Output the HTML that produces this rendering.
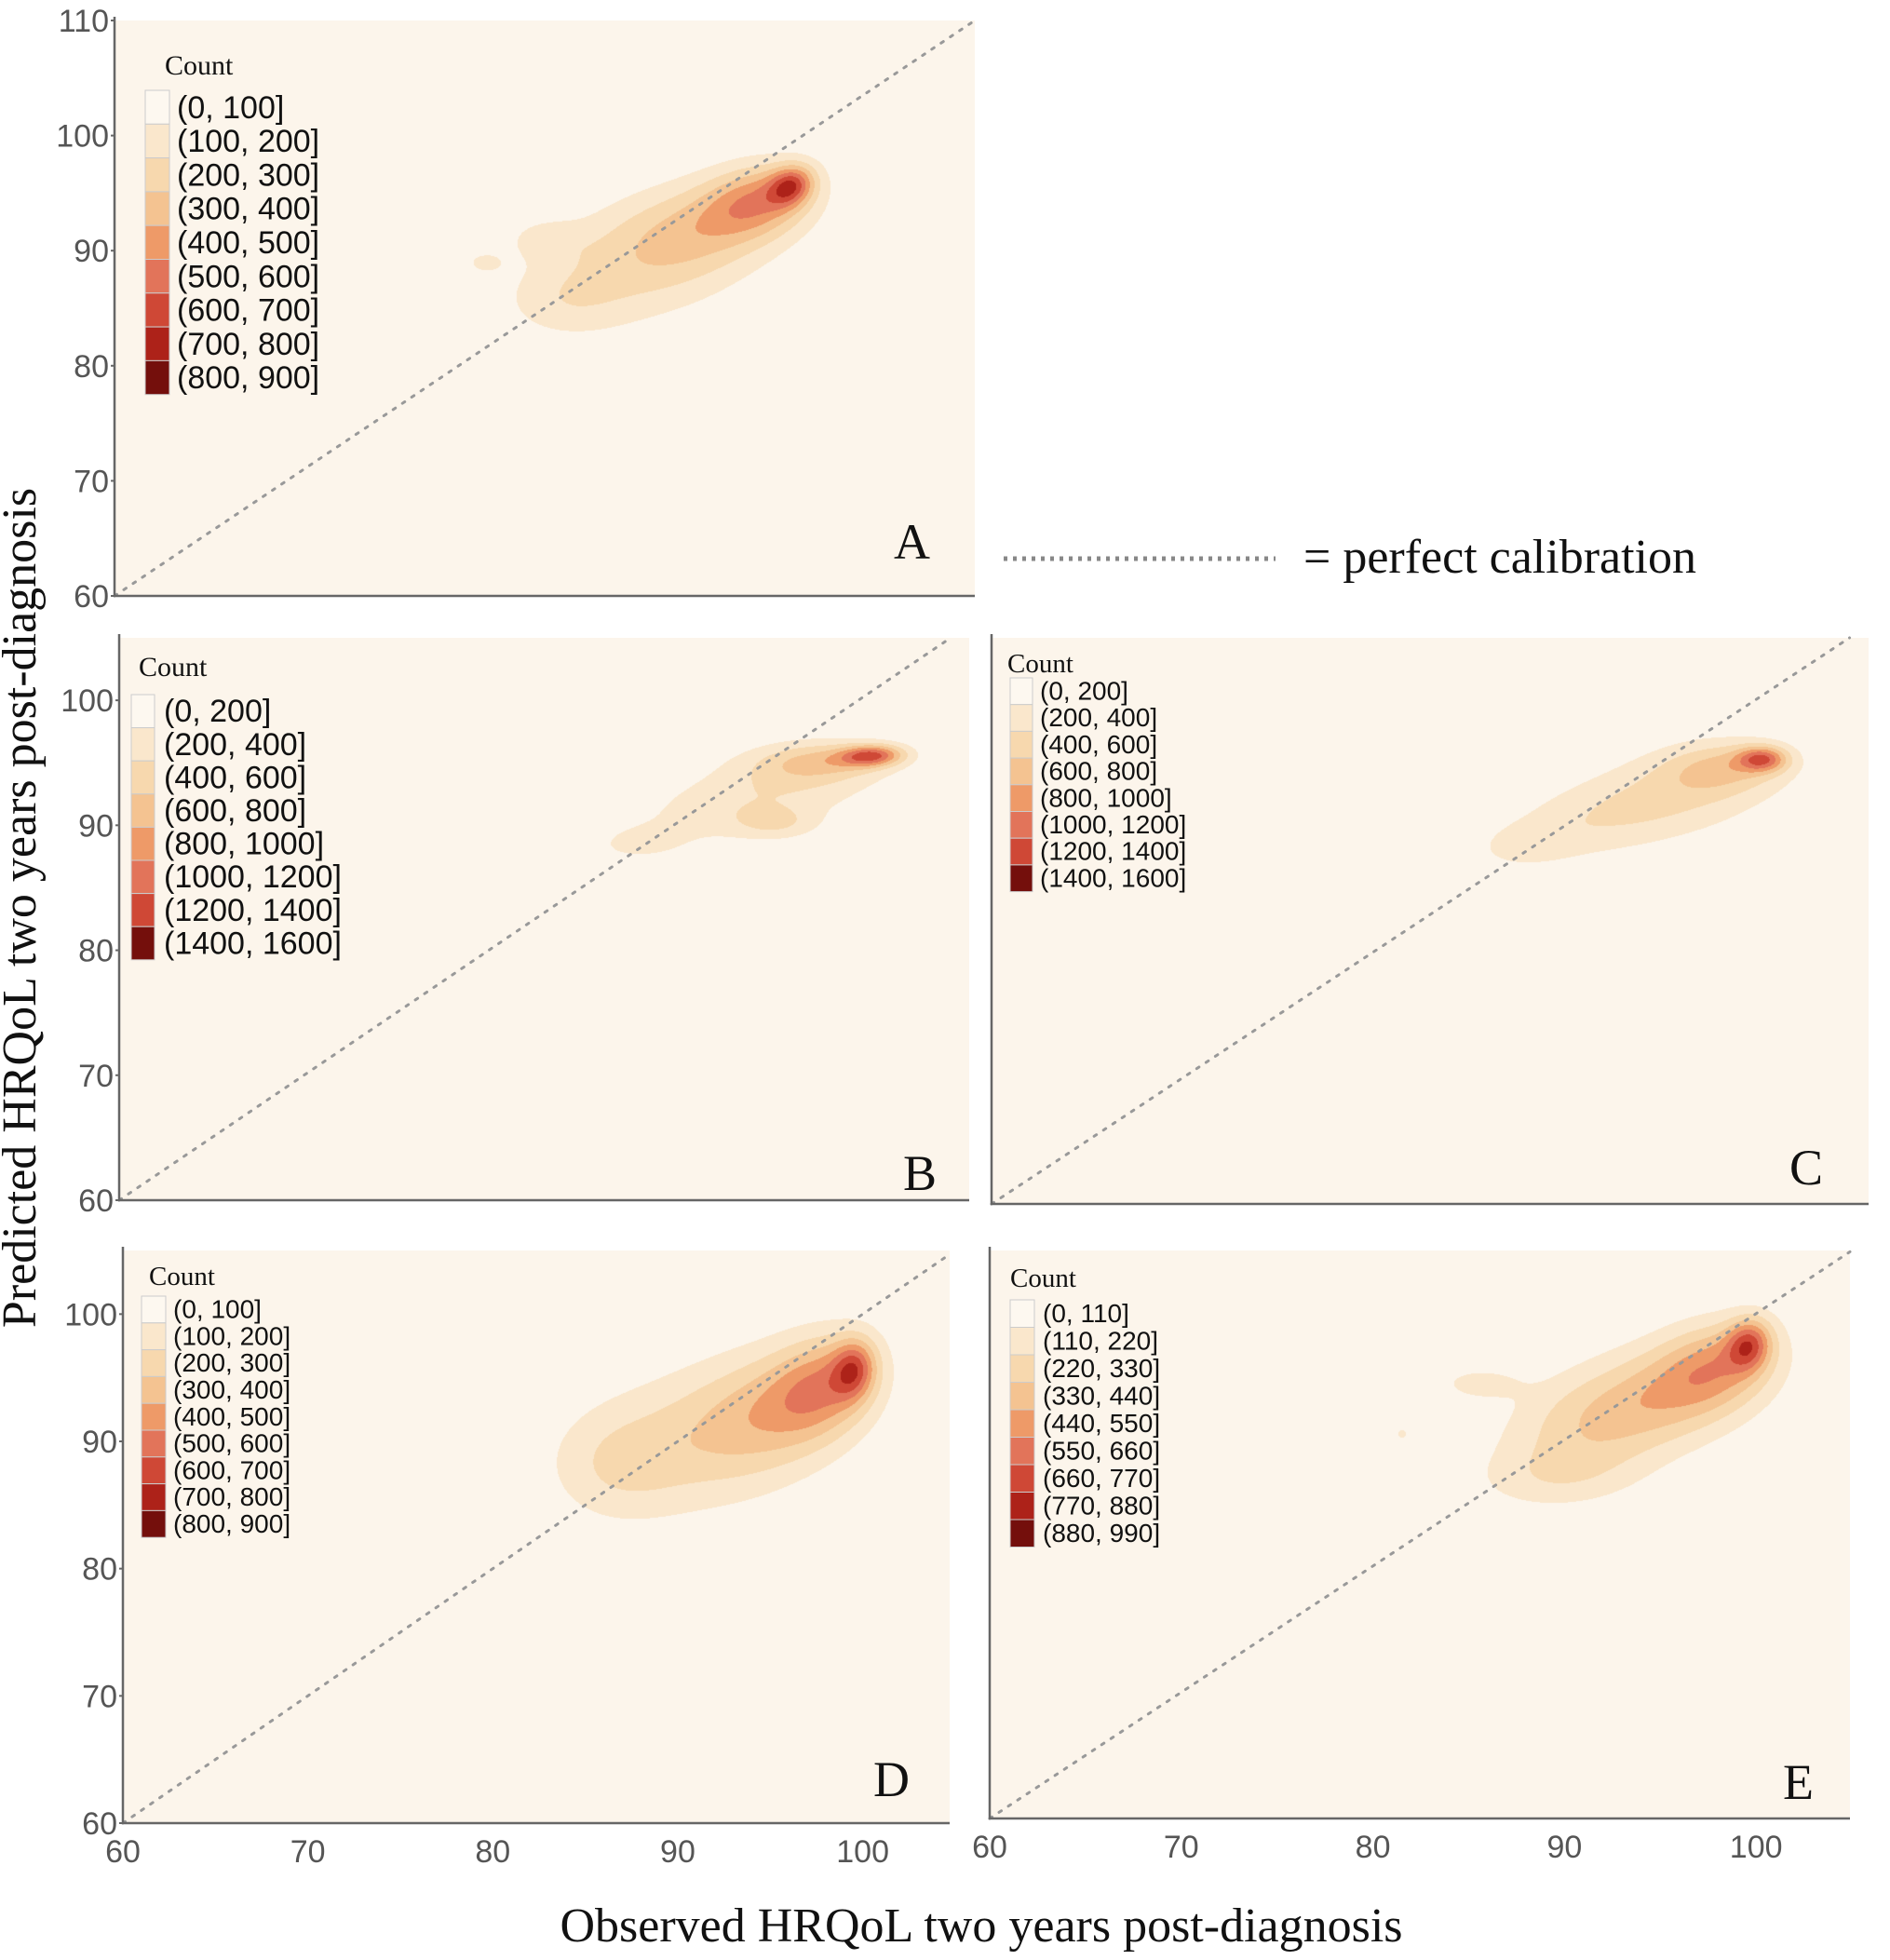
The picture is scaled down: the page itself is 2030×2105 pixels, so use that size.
<!DOCTYPE html>
<html><head><meta charset="utf-8">
<style>
body{margin:0;background:#fff;width:2030px;height:2105px;position:relative;overflow:hidden;font-family:"Liberation Sans",sans-serif}
canvas{position:absolute}
svg{position:absolute;left:0;top:0}
</style></head>
<body>
<canvas id="cA"></canvas>
<canvas id="cB"></canvas>
<canvas id="cC"></canvas>
<canvas id="cD"></canvas>
<canvas id="cE"></canvas>
<svg id="ov" width="2030" height="2105">
<text x="26" y="975" transform="rotate(-90 26 975)" text-anchor="middle" dominant-baseline="middle" font-family="Liberation Serif,serif" font-size="52" fill="#111">Predicted HRQoL two years post-diagnosis</text>
<text x="1054" y="2085" text-anchor="middle" font-family="Liberation Serif,serif" font-size="52" fill="#111">Observed HRQoL two years post-diagnosis</text>
<line x1="1078" y1="600" x2="1370" y2="600" stroke="#888" stroke-width="5" stroke-dasharray="4 6"/>
<text x="1400" y="615" font-family="Liberation Serif,serif" font-size="52" fill="#111">= perfect calibration</text>
</svg>
<script>
// ---- data ----
const levelColors=["#fdf8f0","#fae7cc","#f7d8ae","#f4c391","#ee9a68","#e2745a","#cf4836","#ad2219","#740f0c"];
const labelsA=["(0, 100]","(100, 200]","(200, 300]","(300, 400]","(400, 500]","(500, 600]","(600, 700]","(700, 800]","(800, 900]"];
const labelsB=["(0, 200]","(200, 400]","(400, 600]","(600, 800]","(800, 1000]","(1000, 1200]","(1200, 1400]","(1400, 1600]"];
const labelsC=["(0, 200]","(200, 400]","(400, 600]","(600, 800]","(800, 1000]","(1000, 1200]","(1200, 1400]","(1400, 1600]"];
const labelsD=["(0, 100]","(100, 200]","(200, 300]","(300, 400]","(400, 500]","(500, 600]","(600, 700]","(700, 800]","(800, 900]"];
const labelsE=["(0, 110]","(110, 220]","(220, 330]","(330, 440]","(440, 550]","(550, 660]","(660, 770]","(770, 880]","(880, 990]"];
const stepsA=100, stepsB=200, stepsC=200, stepsD=100, stepsE=110;
// kernel components: [x, y, sx, sy, rho, peak count]
const compsA=[[99.3,95.7,0.9,1.2,0.2,450],[97.5,94.5,2.2,2.2,0.2,380],[94,92,3.5,3,0.2,260],[90,88.5,4,3.5,0.1,180],[86,85.5,2.5,2.2,0,110],[85,91,1.5,1.2,0,110],[81.5,89,0.7,0.6,0,130]];
const compsB=[[100.7,95.6,1.2,0.6,0.1,1000],[98,95.2,2.5,1.1,0.1,500],[96.5,93.5,3.5,2,0.1,300],[95.5,90.2,1.6,0.9,0,300],[92,91,3.5,2,0.2,230],[88,88.5,2,1.1,0.1,200]];
const compsC=[[100.4,95.4,0.9,0.7,0,900],[98.5,94.8,2.2,1.4,0.1,450],[96.5,93,3.5,2.5,0.2,350],[91.5,90.5,3.5,2.3,0.3,300],[88,88.5,1.8,1.2,0.2,200]];
const compsD=[[99.5,95.7,0.8,1.6,0.1,400],[98,94.5,2,2.8,0.2,360],[95,92.5,3,3.5,0.2,260],[90.5,90,4,4,0.1,190],[86.5,88,2.5,3,0,130]];
const compsE=[[99.6,97.6,0.8,1.4,0.1,480],[98,96,2.2,2.5,0.2,380],[95,93.5,3.2,3,0.2,280],[91,91,3.2,3,0.2,220],[85.5,94.5,1.5,0.9,0,150],[89.5,87,3,1.8,0.1,140],[81.5,90.5,0.3,0.5,0,130]];
const yTicksA=[60,70,80,90,100,110];
const yTicksBD=[60,70,80,90,100];
const xTicks=[60,70,80,90,100];

const panels=[
 {id:"A",L:123,T:22,R:1047,B:640,xr:[60,110],yr:[60,110],comps:compsA,step:stepsA,labels:labelsA,yt:yTicksA,xt:null,
  leg:{cx:177,cy:80,cs:30,sx:156,sw:26,y0:97,rh:36.3,fs:34,tx:190},let:[960,600]},
 {id:"B",L:128,T:685,R:1041,B:1289,xr:[60,106],yr:[60,105],comps:compsB,step:stepsB,labels:labelsB,yt:yTicksBD,xt:null,
  leg:{cx:149,cy:726,cs:30,sx:141,sw:25,y0:746,rh:35.6,fs:34,tx:176},let:[970,1278]},
 {id:"C",L:1065,T:685,R:2007,B:1293,xr:[60,106],yr:[60,105],comps:compsC,step:stepsC,labels:labelsC,yt:null,xt:null,
  leg:{cx:1082,cy:722,cs:29,sx:1085,sw:24,y0:728,rh:28.7,fs:28,tx:1117},let:[1922,1272]},
 {id:"D",L:132,T:1343,R:1020,B:1958,xr:[60,104.7],yr:[60,105],comps:compsD,step:stepsD,labels:labelsD,yt:yTicksBD,xt:xTicks,
  leg:{cx:160,cy:1380,cs:29,sx:152,sw:26,y0:1392,rh:28.8,fs:28,tx:186},let:[938,1929]},
 {id:"E",L:1063,T:1343,R:1987,B:1953,xr:[60,104.9],yr:[60,105],comps:compsE,step:stepsE,labels:labelsE,yt:null,xt:xTicks,
  leg:{cx:1085,cy:1382,cs:29,sx:1085,sw:26,y0:1396,rh:29.5,fs:28,tx:1120},let:[1915,1932]}
];
const ov=document.getElementById('ov');
const NS="http://www.w3.org/2000/svg";
function mk(tag,attrs,txt){const e=document.createElementNS(NS,tag);for(const k in attrs)e.setAttribute(k,attrs[k]);if(txt!=null)e.textContent=txt;ov.appendChild(e);return e;}
function hex(c){return [parseInt(c.slice(1,3),16),parseInt(c.slice(3,5),16),parseInt(c.slice(5,7),16)];}
const bg=hex("#fcf5eb");
panels.forEach(p=>{
 const W=p.R-p.L,H=p.B-p.T;
 const xs=v=>p.L+(v-p.xr[0])/(p.xr[1]-p.xr[0])*W;
 const ys=v=>p.B-(v-p.yr[0])/(p.yr[1]-p.yr[0])*H;
 const cv=document.getElementById('c'+p.id);
 cv.width=W;cv.height=H;cv.style.left=p.L+'px';cv.style.top=p.T+'px';
 const ctx=cv.getContext('2d');const img=ctx.createImageData(W,H);const d=img.data;
 const n=p.labels.length;
 const idx=n===8?[0,1,2,3,4,5,6,8]:[0,1,2,3,4,5,6,7,8];
 const cols=idx.map(i=>hex(levelColors[i]));
 for(let py=0;py<H;py++){
  const vy=p.yr[0]+(H-py)/H*(p.yr[1]-p.yr[0]);
  for(let px=0;px<W;px++){
   const vx=p.xr[0]+px/W*(p.xr[1]-p.xr[0]);
   let s=0;
   for(const c of p.comps){const dx=(vx-c[0])/c[2],dy=(vy-c[1])/c[3],r=c[4];
    const q=(dx*dx+dy*dy-2*r*dx*dy)/(1-r*r);if(q<30)s+=c[5]*Math.exp(-0.5*q);}
   let li=Math.floor(s/p.step);let col=bg;
   if(li>=1){col=cols[Math.min(li,n-1)];}
   const o=(py*W+px)*4;d[o]=col[0];d[o+1]=col[1];d[o+2]=col[2];d[o+3]=255;
  }
 }
 ctx.putImageData(img,0,0);
 const m=Math.min(p.xr[1],p.yr[1]);
 const dg=mk('line',{x1:xs(60),y1:ys(60),x2:xs(m),y2:ys(m),stroke:"#999","stroke-width":3,"stroke-dasharray":"3 9","stroke-linecap":"round"});
 
 
 const ax=mk('path',{d:`M${p.L},${p.T-4}V${p.B}H${p.R}`,fill:"none",stroke:"#666","stroke-width":2.5});
 
 
 if(p.yt)p.yt.forEach(v=>{
  const t=mk('text',{x:p.L-6,y:ys(v)+12,"text-anchor":"end","font-size":34,fill:"#555"},String(v));
  
  
  mk('line',{x1:p.L-4,y1:ys(v),x2:p.L,y2:ys(v),stroke:"#666","stroke-width":2});
 });
 if(p.xt)p.xt.forEach(v=>{
  const t=mk('text',{x:xs(v),y:p.B+42,"text-anchor":"middle","font-size":34,fill:"#555"},String(v));
  
  
 });
 const g=p.leg;
 const ct=mk('text',{x:g.cx,y:g.cy,"font-family":"Liberation Serif,serif","font-size":g.cs,fill:"#111"},"Count");
 
 
 p.labels.forEach((lb,i)=>{
  const c=cols[i];const y=g.y0+i*g.rh;
  const r=mk('rect',{x:g.sx,y:y,width:g.sw,height:g.rh,fill:`rgb(${c[0]},${c[1]},${c[2]})`,stroke:"#ccc","stroke-width":1});
  
  
  const t=mk('text',{x:g.tx,y:y+g.rh*0.82,"font-size":g.fs,fill:"#111"},lb);
  
  
 });
 const lt=mk('text',{x:p.let[0],y:p.let[1],"font-family":"Liberation Serif,serif","font-size":54,fill:"#111"},p.id);
 
 
});
</script>
</body></html>
